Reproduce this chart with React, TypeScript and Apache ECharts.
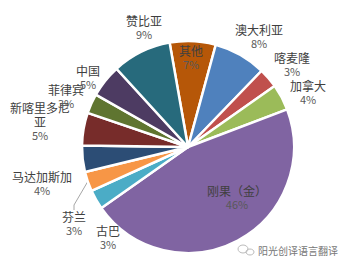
import React, { useEffect, useRef } from "react";
import * as echarts from "echarts";

const categories = ["其他", "澳大利亚", "喀麦隆", "加拿大", "刚果（金）", "古巴", "芬兰", "马达加斯加", "新喀里多尼亚", "菲律宾", "中国", "赞比亚"];
const values = [7, 8, 3, 4, 46, 3, 3, 4, 5, 3, 5, 9];
const colors = ["#B65708", "#4F81BD", "#C0504D", "#9BBB59", "#8064A2", "#4BACC6", "#F79646", "#2C4D75", "#772C2A", "#5F7530", "#4D3B62", "#276A7C"];
// label block centres (layout only)
const labelPos: [number, number][] = [
  [191, 57], [259, 36], [292, 64], [308, 92], [237, 197], [108, 237],
  [74, 223], [42, 183], [40, 121], [66, 96], [88, 77], [144, 27],
];

export default function App() {
  const ref = useRef<HTMLDivElement>(null);
  useEffect(() => {
    document.body.style.margin = "0";
    const chart = echarts.init(ref.current!, null, { renderer: "svg" });
    const font = '"Noto Sans CJK SC", "Microsoft YaHei", sans-serif';
    chart.setOption({
      animation: false,
      backgroundColor: "#fff",
      series: [
        {
          type: "pie",
          center: [188, 147],
          radius: 106,
          startAngle: 100,
          clockwise: true,
          avoidLabelOverlap: false,
          itemStyle: { borderColor: "#fff", borderWidth: 2.5 },
          label: {
            show: true,
            position: "outside",
            fontFamily: font,
            formatter: (p: any) => {
              const n: string = p.name;
              const name = n.length > 5 ? n.slice(0, 5) + "}\n{n|" + n.slice(5) : n;
              return "{n|" + name + "}\n{p|" + p.value + "%}";
            },
            rich: {
              n: { fontSize: 12, color: "#404040", lineHeight: 14, fontFamily: font, align: "center" },
              p: { fontSize: 11, color: "#595959", lineHeight: 14, fontFamily: font, align: "center" },
            },
          },
          labelLine: { show: false },
          labelLayout: (params: any) => {
            const pos = labelPos[params.dataIndex];
            return { x: pos[0], y: pos[1], align: "center", verticalAlign: "middle" };
          },
          data: categories.map((c, i) => ({
            name: c,
            value: values[i],
            itemStyle: { color: colors[i] },
            labelLine: c === "芬兰" ? { show: true, length: 5, length2: 5, lineStyle: { color: "#A6A6A6", width: 1 } } : { show: false },
          })),
        },
      ],
      graphic: [
        { type: "ellipse", shape: { cx: 243, cy: 249, rx: 5, ry: 4 }, style: { fill: "none", stroke: "#bbb", lineWidth: 1 } },
        { type: "ellipse", shape: { cx: 250, cy: 252, rx: 4, ry: 3 }, style: { fill: "none", stroke: "#bbb", lineWidth: 1 } },
        { type: "text", x: 258, y: 250, style: { text: "阳光创译语言翻译", fontSize: 10, fontFamily: font, fill: "#777", stroke: "#fff", lineWidth: 1, verticalAlign: "middle" } },
      ],
    });
    return () => chart.dispose();
  }, []);
  return <div ref={ref} style={{ width: 352, height: 265 }} />;
}
